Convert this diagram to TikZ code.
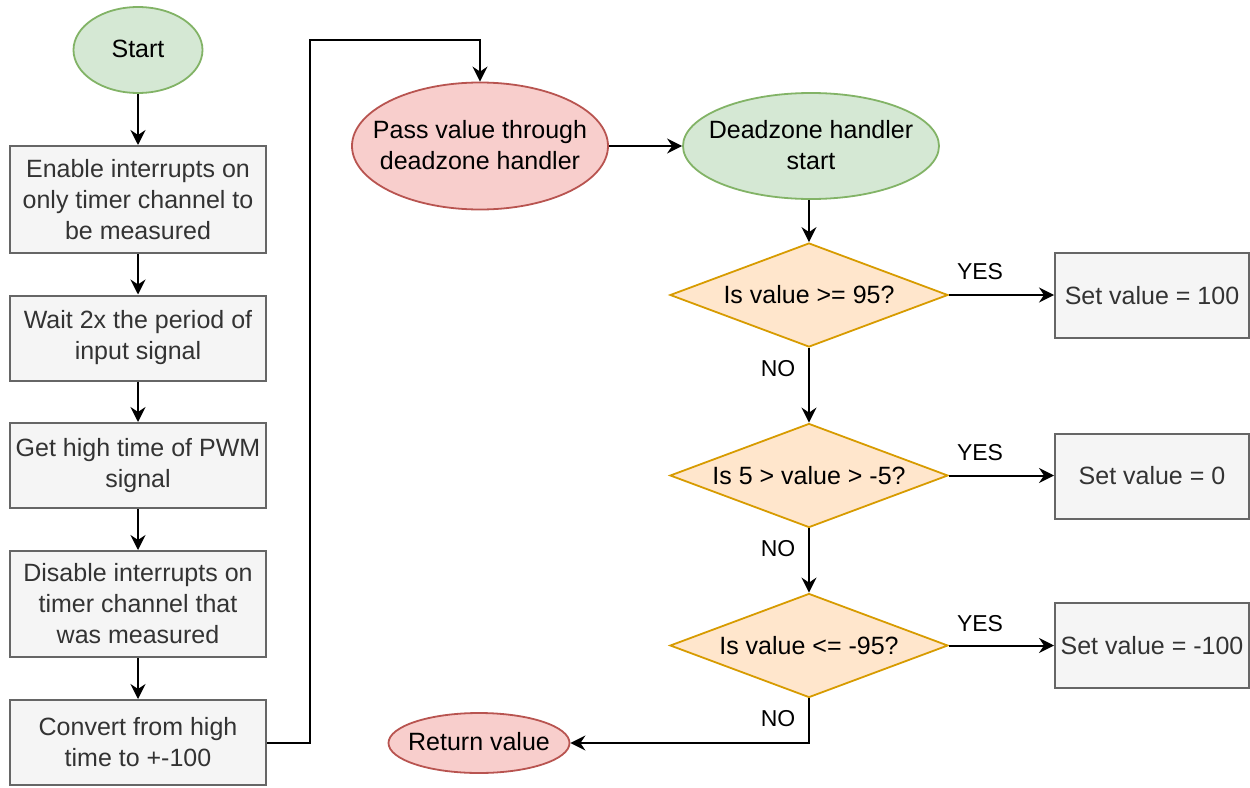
\documentclass[tikz,border=0pt]{standalone}
\usepackage{fontspec}
\setmainfont{Liberation Sans}
\usetikzlibrary{shapes.geometric,arrows.meta}
\definecolor{gfill}{HTML}{D5E8D4}
\definecolor{gline}{HTML}{82B366}
\definecolor{rfill}{HTML}{F8CECC}
\definecolor{rline}{HTML}{B85450}
\definecolor{ofill}{HTML}{FFE6CC}
\definecolor{oline}{HTML}{D79B00}
\definecolor{pfill}{HTML}{F5F5F5}
\definecolor{pline}{HTML}{666666}
\definecolor{ptext}{HTML}{333333}
% text that takes no room, so a shape keeps its given size
\newcommand\flattext[1]{\makebox[0pt]{\raisebox{-16pt}{\smash{\begin{tabular}[c]{@{}c@{}}#1\end{tabular}}}}}
\begin{document}
\begin{tikzpicture}[x=1pt,y=-1pt,
  every node/.style={font=\fontsize{25}{31}\selectfont, inner sep=0pt, align=center},
  startend/.style={ellipse, draw=gline, fill=gfill, line width=1.8pt},
  callnode/.style={ellipse, draw=rline, fill=rfill, line width=1.8pt},
  procbox/.style={rectangle, draw=pline, fill=pfill, text=ptext, line width=2pt,
                  minimum width=256pt},
  setbox/.style={rectangle, draw=pline, fill=pfill, text=ptext, line width=2pt,
                 minimum width=194pt, minimum height=85pt},
  decision/.style={diamond, draw=oline, fill=ofill, line width=1.8pt,
                   minimum width=278pt, minimum height=104pt},
  flow/.style={line width=2pt, -{Stealth[length=15pt,width=15pt,inset=5pt]}},
  branch/.style={font=\fontsize{23}{28}\selectfont}]
\useasboundingbox (0,0) rectangle (1250,787);

% left column: measurement steps
\node[startend, minimum width=129pt, minimum height=86pt] (start) at (138,50) {\flattext{Start}};
\node[procbox, minimum height=107pt] (enable) at (138,199.5)
  {Enable interrupts on\\only timer channel to\\be measured};
\node[procbox, minimum height=85pt] (wait) at (138,338)
  {Wait 2x the period of\\input signal};
\node[procbox, minimum height=85pt] (gethigh) at (138,465.5)
  {Get high time of PWM\\signal};
\node[procbox, minimum height=106pt] (disable) at (138,604)
  {Disable interrupts on\\timer channel that\\was measured};
\node[procbox, minimum height=85pt] (convert) at (138,742.5)
  {Convert from high\\time to +-100};

% deadzone handler
\node[callnode, minimum width=256pt, minimum height=127pt] (pass) at (480,146)
  {\flattext{Pass value through\\deadzone handler}};
\node[startend, minimum width=256pt, minimum height=106pt] (dzstart) at (811,146)
  {\flattext{Deadzone handler\\start}};

\node[decision] (d1) at (809,295) {\makebox[0pt]{Is value >= 95?}};
\node[decision] (d2) at (809,475.5) {\makebox[0pt]{Is 5 > value > -5?}};
\node[decision] (d3) at (809,645.5) {\makebox[0pt]{Is value <= -95?}};

\node[setbox] (s1) at (1152,295.5) {Set value = 100};
\node[setbox] (s2) at (1152,476) {Set value = 0};
\node[setbox] (s3) at (1152,645.5) {\makebox[0pt]{Set value = -100}};

\node[callnode, minimum width=181pt, minimum height=60pt] (ret) at (479,743) {\flattext{Return value}};

% branch labels
\node[branch] (y1) at (980,272) {YES};
\node[branch] (y2) at (980,453) {YES};
\node[branch] (y3) at (980,624) {YES};
\node[branch] (n1) at (778,369) {NO};
\node[branch] (n2) at (778,549) {NO};
\node[branch] (n3) at (778,719) {NO};

% routing points
\coordinate (r1) at (310,742.5);
\coordinate (r2) at (310,40);
\coordinate (r3) at (480,40);
\coordinate (r4) at (809,743);

% connectors
\draw[flow] (start) -- (enable);
\draw[flow] (enable) -- (wait);
\draw[flow] (wait) -- (gethigh);
\draw[flow] (gethigh) -- (disable);
\draw[flow] (disable) -- (convert);
\draw[flow] (convert.east) -- (r1) -- (r2) -- (r3) -- (pass.north);
\draw[flow] (pass) -- (dzstart);
\draw[flow] (dzstart.south -| d1.north) -- (d1.north);
\draw[flow] (d1.east) -- (s1.west |- d1.east);
\draw[flow] (d1.south) -- (d2.north);
\draw[flow] (d2.east) -- (s2.west |- d2.east);
\draw[flow] (d2.south) -- (d3.north);
\draw[flow] (d3.east) -- (s3.west |- d3.east);
\draw[flow] (d3.south) -- (r4) -- (ret.east);
\end{tikzpicture}
\end{document}
